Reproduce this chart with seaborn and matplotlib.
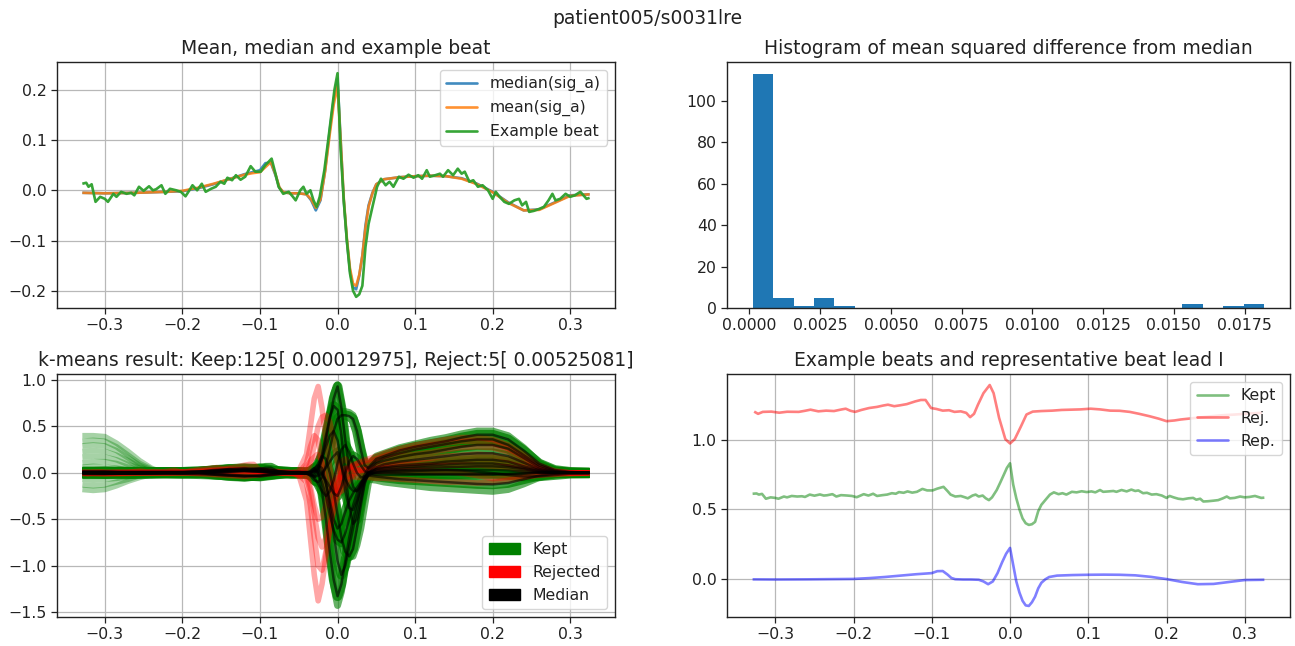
import matplotlib
matplotlib.use("Agg")
import numpy as np
import pandas as pd
import matplotlib.pyplot as plt
from matplotlib.lines import Line2D
from matplotlib.patches import Patch
import seaborn as sns

# ---------------------------------------------------------------- data
record_name = "patient005/s0031lre"

# averaged beats of lead I (seconds relative to R peak)
t_avg = [-0.329, -0.30, -0.26, -0.22, -0.20, -0.18, -0.16, -0.14, -0.12, -0.11,
         -0.10, -0.093, -0.086, -0.080, -0.075, -0.070, -0.06, -0.05, -0.04, -0.034,
         -0.028, -0.022, -0.016, -0.010, -0.005, 0.0, 0.004, 0.008, 0.012, 0.016,
         0.020, 0.024, 0.028, 0.032, 0.036, 0.040, 0.045, 0.050, 0.060, 0.080,
         0.10, 0.12, 0.14, 0.16, 0.18, 0.20, 0.22, 0.24, 0.26, 0.28,
         0.30, 0.325]
median_beat = [-0.005, -0.006, -0.005, -0.003, -0.002, 0.004, 0.012, 0.022, 0.032, 0.036,
               0.040, 0.054, 0.055, 0.030, 0.005, -0.004, -0.006, -0.006, -0.008, -0.020,
               -0.040, -0.020, 0.040, 0.120, 0.180, 0.222, 0.100, -0.020, -0.100, -0.160,
               -0.193, -0.197, -0.170, -0.130, -0.070, -0.030, -0.005, 0.012, 0.022, 0.026,
               0.028, 0.029, 0.028, 0.024, 0.013, -0.003, -0.024, -0.040, -0.038, -0.024,
               -0.010, -0.008]
mean_beat = [-0.005, -0.006, -0.005, -0.003, -0.001, 0.005, 0.013, 0.022, 0.031, 0.034,
             0.036, 0.046, 0.056, 0.032, 0.006, -0.004, -0.006, -0.006, -0.008, -0.018,
             -0.035, -0.018, 0.038, 0.112, 0.170, 0.208, 0.100, -0.015, -0.095, -0.155,
             -0.186, -0.190, -0.168, -0.130, -0.075, -0.033, -0.006, 0.012, 0.022, 0.026,
             0.028, 0.029, 0.028, 0.023, 0.012, -0.004, -0.025, -0.040, -0.039, -0.025,
             -0.011, -0.008]

# one kept beat of lead I
t_example = [-0.329, -0.324, -0.321, -0.317, -0.312, -0.306, -0.300, -0.296, -0.289, -0.285,
             -0.279, -0.272, -0.266, -0.262, -0.256, -0.250, -0.243, -0.238, -0.234, -0.227,
             -0.222, -0.216, -0.208, -0.202, -0.196, -0.191, -0.187, -0.181, -0.175, -0.170,
             -0.163, -0.157, -0.151, -0.146, -0.142, -0.136, -0.131, -0.125, -0.119, -0.112,
             -0.106, -0.099, -0.093, -0.085, -0.080, -0.076, -0.070, -0.063, -0.058, -0.054,
             -0.048, -0.044, -0.040, -0.035, -0.031, -0.027, -0.023,
             -0.017, -0.012, -0.008, -0.004, 0.0, 0.004, 0.008, 0.012, 0.016, 0.020,
             0.024, 0.028, 0.032, 0.036, 0.040, 0.045, 0.051,
             0.056, 0.062, 0.067, 0.072, 0.079, 0.085, 0.0915, 0.098, 0.104, 0.109,
             0.115, 0.119, 0.126, 0.132, 0.136, 0.1425, 0.149, 0.155, 0.160, 0.164,
             0.170, 0.175, 0.181, 0.187, 0.194, 0.200, 0.204, 0.209, 0.215, 0.221,
             0.228, 0.234, 0.238, 0.243, 0.247, 0.253, 0.260, 0.266, 0.272, 0.277,
             0.281, 0.287, 0.294, 0.300, 0.306, 0.313, 0.317, 0.321, 0.325]
example_beat = [0.013, 0.015, 0.007, 0.012, -0.023, -0.013, -0.017, -0.023, -0.007, -0.013,
                -0.003, -0.007, -0.005, -0.010, 0.007, -0.001, 0.008, 0.0, 0.002, 0.010,
                -0.007, 0.003, 0.0, -0.003, -0.012, 0.0, 0.010, 0.0, 0.013, -0.003,
                0.003, 0.007, 0.017, 0.013, 0.025, 0.020, 0.030, 0.021, 0.027, 0.048,
                0.037, 0.037, 0.050, 0.063, 0.033, 0.007, -0.007, -0.003, -0.012, -0.020,
                0.0, 0.007, -0.007, 0.0, -0.020, -0.033, -0.013,
                0.040, 0.100, 0.150, 0.200, 0.233, 0.080, -0.020, -0.100, -0.165, -0.200,
                -0.212, -0.207, -0.190, -0.113, -0.067, -0.033, 0.007,
                0.023, 0.010, 0.017, 0.007, 0.027, 0.023, 0.031, 0.025, 0.030, 0.023,
                0.040, 0.027, 0.030, 0.033, 0.027, 0.040, 0.030, 0.043, 0.033, 0.037,
                0.017, 0.020, 0.007, 0.010, 0.000, -0.017, -0.003, -0.013, -0.023, -0.027,
                -0.020, -0.017, -0.030, -0.023, -0.043, -0.041, -0.037, -0.033, -0.020, -0.007,
                -0.020, -0.017, -0.007, -0.013, -0.010, -0.003, -0.010, -0.017, -0.015]

# one rejected beat of lead I
t_rej = [-0.327, -0.322, -0.316, -0.305, -0.295, -0.285, -0.27, -0.262, -0.255, -0.245,
         -0.235, -0.225, -0.215, -0.21, -0.204, -0.198, -0.19, -0.18, -0.17, -0.162,
         -0.156, -0.148, -0.141, -0.132, -0.121, -0.114, -0.108, -0.101, -0.094, -0.086,
         -0.078, -0.071, -0.063, -0.056, -0.051, -0.046, -0.041, -0.034, -0.026, -0.021,
         -0.014, -0.006, 0.0, 0.006, 0.014, 0.021, 0.029, 0.04, 0.054, 0.066,
         0.078, 0.09, 0.103, 0.115, 0.128, 0.14, 0.153, 0.165, 0.178, 0.19,
         0.2, 0.21, 0.218, 0.238, 0.258, 0.272, 0.288, 0.305, 0.322]
rej_beat = [0.006, -0.01, 0.004, 0.006, -0.002, 0.005, 0.004, 0.012, 0.02, 0.008,
            0.013, 0.01, 0.022, 0.027, 0.012, 0.004, 0.018, 0.032, 0.04, 0.05,
            0.056, 0.045, 0.051, 0.06, 0.08, 0.09, 0.09, 0.032, 0.025, 0.013,
            0.016, 0.004, 0.008, -0.003, -0.034, -0.01, 0.056, 0.139, 0.198, 0.139,
            -0.039, -0.193, -0.224, -0.193, -0.1, -0.015, 0.006, 0.01, 0.013, 0.018,
            0.02, 0.022, 0.027, 0.022, 0.013, 0.012, 0.004, -0.01, -0.027, -0.045,
            -0.063, -0.058, -0.051, -0.039, -0.027, -0.02, -0.015, -0.008, -0.003]

# histogram of mean squared difference from the median beat
msd_lo, msd_hi, msd_nbins = 0.00011, 0.0182, 25
msd_counts = [113, 5, 1, 5, 1, 0, 0, 0, 0, 0,
              0, 0, 0, 0, 0, 0, 0, 0, 0, 0,
              0, 2, 0, 1, 2]

# beats of the remaining leads, on a shared time grid
t_lead = [-0.329, -0.30, -0.28, -0.26, -0.24, -0.22, -0.20, -0.18, -0.16, -0.14,
          -0.12, -0.10, -0.08, -0.06,
          -0.05, -0.04, -0.035, -0.03, -0.025, -0.02, -0.015, -0.01, -0.005, 0.0,
          0.005, 0.01, 0.015, 0.02, 0.025, 0.03, 0.035, 0.04,
          0.05, 0.06, 0.08, 0.10, 0.12, 0.14, 0.16, 0.18, 0.20, 0.22,
          0.24, 0.26, 0.28, 0.30, 0.325]
lead_medians = [
    [0.01, 0.01, 0.01, 0.01, 0.01, 0.01, 0.01, 0.015, 0.02, 0.03, 0.04, 0.03, 0.02, 0.01,
     0.01, 0.0, -0.02, -0.05, 0.0, 0.15, 0.35, 0.58, 0.80, 0.93, 0.70, 0.35, 0.05, -0.15, -0.2, -0.12, -0.02, 0.06,
     0.15, 0.18, 0.24, 0.28, 0.31, 0.34, 0.38, 0.41, 0.41, 0.36, 0.24, 0.10, 0.03, 0.01, 0.0],
    [0.0, 0.0, -0.005, 0.0, 0.0, 0.005, 0.005, 0.01, 0.03, 0.04, 0.03, 0.02, 0.01, 0.0,
     0.0, 0.0, -0.03, -0.08, -0.1, -0.05, 0.08, 0.25, 0.45, 0.58, 0.62, 0.62, 0.61, 0.58, 0.45, 0.25, 0.08, 0.05,
     0.12, 0.16, 0.21, 0.25, 0.28, 0.31, 0.34, 0.36, 0.36, 0.30, 0.19, 0.08, 0.02, 0.0, 0.0],
    [0.0, -0.01, -0.01, -0.01, -0.005, 0.0, 0.0, 0.0, -0.02, -0.03, -0.04, -0.03, -0.01, 0.0,
     0.0, 0.0, 0.02, 0.05, 0.0, -0.2, -0.5, -0.85, -1.15, -1.33, -1.2, -0.95, -0.7, -0.5, -0.32, -0.18, -0.06, 0.02,
     0.1, 0.13, 0.17, 0.2, 0.22, 0.25, 0.28, 0.30, 0.30, 0.26, 0.16, 0.06, 0.01, 0.0, 0.0],
    [0.0, 0.0, 0.0, 0.005, 0.005, 0.005, 0.0, 0.0, 0.01, 0.02, 0.03, 0.02, 0.0, 0.0,
     0.0, 0.0, 0.01, 0.05, 0.08, 0.05, -0.1, -0.35, -0.65, -0.95, -1.1, -1.0, -0.8, -0.6, -0.4, -0.22, -0.08, 0.0,
     0.06, 0.09, 0.12, 0.14, 0.16, 0.18, 0.2, 0.21, 0.21, 0.18, 0.11, 0.04, 0.01, 0.0, 0.0],
    [-0.01, -0.01, -0.01, -0.01, -0.01, -0.005, -0.005, 0.0, 0.0, 0.01, 0.02, 0.01, 0.0, -0.01,
     -0.01, -0.01, 0.0, 0.03, 0.1, 0.18, 0.15, 0.0, -0.2, -0.45, -0.7, -0.85, -0.9, -0.82, -0.6, -0.35, -0.12, 0.0,
     0.04, 0.06, 0.08, 0.09, 0.1, 0.12, 0.13, 0.14, 0.14, 0.12, 0.07, 0.03, 0.0, 0.0, 0.0],
    [0.01, 0.01, 0.005, 0.005, 0.0, 0.0, 0.0, 0.0, -0.01, -0.02, -0.03, -0.04, -0.02, 0.0,
     0.0, 0.0, 0.0, 0.02, 0.05, 0.0, -0.12, -0.3, -0.5, -0.6, -0.55, -0.42, -0.3, -0.22, -0.16, -0.1, -0.06, -0.03,
     -0.04, -0.05, -0.07, -0.08, -0.09, -0.1, -0.11, -0.12, -0.125, -0.11, -0.07, -0.03, -0.01, 0.0, 0.0],
    [0.0, 0.0, 0.0, 0.0, 0.0, 0.0, 0.005, 0.01, 0.02, 0.03, 0.02, 0.01, 0.0, 0.0,
     0.0, -0.01, -0.03, -0.02, 0.05, 0.15, 0.28, 0.4, 0.45, 0.35, 0.1, -0.2, -0.38, -0.4, -0.3, -0.15, -0.05, 0.0,
     0.02, 0.03, 0.04, 0.05, 0.055, 0.06, 0.065, 0.07, 0.07, 0.06, 0.04, 0.01, 0.0, 0.0, 0.0],
    [0.0, 0.005, 0.005, 0.0, 0.0, -0.005, -0.01, -0.015, -0.02, -0.03, -0.035, -0.03, -0.015, 0.0,
     0.0, 0.0, 0.01, 0.02, 0.02, -0.02, -0.08, -0.15, -0.22, -0.25, -0.15, 0.0, 0.12, 0.18, 0.15, 0.08, 0.02, -0.01,
     -0.02, -0.02, -0.02, -0.02, -0.02, -0.02, -0.02, -0.02, -0.02, -0.015, -0.01, 0.0, 0.0, 0.0, 0.0],
    [0.0, 0.0, 0.0, 0.0, 0.0, 0.0, 0.0, 0.0, 0.01, 0.02, 0.03, 0.05, 0.02, 0.0,
     0.0, 0.0, 0.0, -0.05, -0.12, -0.2, -0.25, -0.2, -0.08, 0.1, 0.25, 0.3, 0.22, 0.1, 0.0, -0.05, -0.04, -0.02,
     0.0, 0.01, 0.015, 0.02, 0.025, 0.03, 0.03, 0.03, 0.03, 0.025, 0.015, 0.005, 0.0, 0.0, 0.0],
    [0.015, 0.015, 0.01, 0.01, 0.01, 0.01, 0.01, 0.015, 0.02, 0.04, 0.05, 0.04, 0.02, 0.01,
     0.01, 0.01, 0.0, 0.0, 0.05, 0.2, 0.4, 0.6, 0.72, 0.68, 0.4, 0.0, -0.35, -0.55, -0.5, -0.3, -0.1, 0.0,
     0.0, 0.0, -0.005, -0.01, -0.01, -0.01, -0.01, -0.01, -0.01, -0.01, -0.005, 0.0, 0.0, 0.0, 0.0],
    [-0.015, -0.015, -0.01, -0.01, -0.01, -0.01, -0.01, -0.005, 0.0, 0.01, 0.02, 0.02, 0.0, -0.01,
     -0.01, -0.01, 0.0, 0.02, 0.0, -0.1, -0.25, -0.45, -0.62, -0.72, -0.75, -0.65, -0.5, -0.35, -0.22, -0.12, -0.05, 0.0,
     0.04, 0.05, 0.06, 0.07, 0.08, 0.09, 0.1, 0.1, 0.1, 0.08, 0.05, 0.02, 0.0, 0.0, 0.0],
]
kept_beats = [
    [0.02, 0.03, 0.03, 0.025, 0.02, 0.02, 0.02, 0.02, 0.04, 0.05, 0.06, 0.04, 0.02, 0.01,
     0.01, 0.0, -0.03, -0.06, 0.02, 0.2, 0.4, 0.62, 0.85, 0.95, 0.75, 0.4, 0.1, -0.12, -0.18, -0.1, 0.0, 0.09,
     0.18, 0.21, 0.27, 0.31, 0.35, 0.38, 0.42, 0.45, 0.45, 0.4, 0.27, 0.11, 0.03, 0.01, 0.0],
    [-0.02, -0.02, -0.015, -0.01, -0.01, -0.01, -0.01, -0.01, -0.02, -0.04, -0.05, -0.05, -0.03, -0.01,
     -0.01, -0.01, -0.01, 0.0, 0.03, -0.03, -0.16, -0.36, -0.56, -0.66, -0.6, -0.48, -0.36, -0.28, -0.22, -0.16, -0.1, -0.07,
     -0.08, -0.1, -0.12, -0.14, -0.16, -0.17, -0.18, -0.19, -0.2, -0.18, -0.12, -0.05, -0.02, -0.01, 0.0],
    [0.0, -0.01, -0.02, -0.02, -0.01, 0.0, 0.0, 0.0, -0.03, -0.05, -0.06, -0.04, -0.02, 0.0,
     0.0, 0.0, 0.03, 0.06, 0.0, -0.25, -0.55, -0.9, -1.22, -1.43, -1.28, -1.0, -0.75, -0.55, -0.36, -0.2, -0.07, 0.02,
     0.11, 0.15, 0.19, 0.22, 0.25, 0.28, 0.31, 0.33, 0.33, 0.28, 0.17, 0.06, 0.01, 0.0, 0.0],
    [0.0, 0.0, 0.0, 0.0, 0.0, 0.005, 0.01, 0.02, 0.04, 0.05, 0.04, 0.02, 0.01, 0.0,
     0.0, 0.0, -0.04, -0.1, -0.12, -0.06, 0.06, 0.24, 0.45, 0.6, 0.66, 0.66, 0.65, 0.62, 0.5, 0.3, 0.1, 0.0,
     0.08, 0.14, 0.19, 0.23, 0.26, 0.29, 0.32, 0.34, 0.34, 0.28, 0.17, 0.07, 0.02, 0.0, 0.0],
    [-0.01, -0.01, -0.01, -0.01, -0.01, -0.01, 0.0, 0.0, 0.01, 0.02, 0.03, 0.02, 0.0, -0.01,
     -0.01, -0.01, 0.0, 0.02, 0.08, 0.16, 0.14, 0.0, -0.18, -0.4, -0.62, -0.8, -0.9, -0.9, -0.78, -0.6, -0.35, -0.1,
     0.03, 0.05, 0.07, 0.08, 0.09, 0.11, 0.12, 0.13, 0.13, 0.11, 0.07, 0.03, 0.0, 0.0, 0.0],
]
rejected_beats = [
    [0.0, 0.0, 0.005, 0.005, 0.0, 0.0, 0.01, 0.02, 0.03, 0.04, 0.03, 0.02, 0.01, 0.0,
     0.02, 0.2, 0.5, 0.8, 0.93, 0.7, 0.35, 0.05, -0.15, -0.2, -0.1, 0.0, 0.05, 0.08, 0.1, 0.12, 0.14, 0.15,
     0.18, 0.21, 0.26, 0.3, 0.33, 0.36, 0.38, 0.38, 0.36, 0.3, 0.2, 0.08, 0.02, 0.0, 0.0],
    [0.0, -0.01, -0.01, -0.005, 0.0, 0.0, 0.0, -0.01, -0.02, -0.03, -0.04, -0.02, 0.0, 0.0,
     -0.02, -0.3, -0.7, -1.1, -1.38, -1.2, -0.9, -0.6, -0.35, -0.15, 0.0, 0.05, 0.05, 0.06, 0.07, 0.08, 0.09, 0.1,
     0.12, 0.14, 0.18, 0.2, 0.22, 0.25, 0.27, 0.28, 0.27, 0.22, 0.14, 0.05, 0.01, 0.0, 0.0],
    [0.01, 0.01, 0.005, 0.005, 0.0, 0.0, 0.0, 0.01, 0.02, 0.03, 0.02, 0.01, 0.0, 0.0,
     0.0, 0.0, 0.1, 0.3, 0.5, 0.6, 0.62, 0.55, 0.35, 0.1, -0.05, 0.0, 0.05, 0.08, 0.1, 0.11, 0.12, 0.13,
     0.15, 0.18, 0.23, 0.27, 0.3, 0.32, 0.34, 0.34, 0.32, 0.26, 0.17, 0.06, 0.01, 0.0, 0.0],
    [-0.01, -0.01, -0.005, 0.0, 0.0, 0.0, 0.0, 0.0, 0.01, 0.01, 0.02, 0.01, 0.0, -0.01,
     -0.02, -0.1, -0.35, -0.7, -1.0, -1.05, -0.85, -0.6, -0.4, -0.25, -0.15, -0.1, -0.05, 0.0, 0.02, 0.03, 0.04, 0.05,
     0.07, 0.09, 0.12, 0.14, 0.16, 0.18, 0.19, 0.2, 0.19, 0.15, 0.09, 0.03, 0.0, 0.0, 0.0],
    [0.0, 0.0, 0.0, 0.0, 0.0, 0.005, 0.005, 0.0, -0.01, -0.02, -0.03, -0.02, 0.0, 0.0,
     0.0, 0.0, -0.15, -0.35, -0.5, -0.48, -0.35, -0.2, -0.1, -0.05, -0.05, -0.04, -0.04, -0.04, -0.05, -0.05, -0.05, -0.05,
     -0.06, -0.06, -0.07, -0.08, -0.09, -0.1, -0.1, -0.11, -0.1, -0.08, -0.05, -0.02, -0.01, 0.0, 0.0],
    [0.0, 0.0, 0.0, 0.0, 0.005, 0.005, 0.01, 0.01, 0.02, 0.03, 0.04, 0.02, 0.01, 0.0,
     0.0, 0.1, 0.28, 0.4, 0.35, 0.1, -0.2, -0.35, -0.3, -0.15, 0.0, 0.05, 0.04, 0.03, 0.03, 0.03, 0.03, 0.03,
     0.04, 0.05, 0.06, 0.07, 0.075, 0.08, 0.08, 0.08, 0.07, 0.06, 0.03, 0.01, 0.0, 0.0, 0.0],
    [0.0, 0.0, 0.0, 0.005, 0.005, 0.0, 0.0, 0.0, 0.01, 0.02, 0.02, 0.01, 0.0, 0.0,
     -0.01, -0.05, -0.2, -0.45, -0.7, -0.8, -0.7, -0.45, -0.2, 0.0, 0.12, 0.15, 0.1, 0.05, 0.02, 0.02, 0.03, 0.04,
     0.05, 0.07, 0.09, 0.1, 0.11, 0.12, 0.13, 0.14, 0.13, 0.1, 0.06, 0.02, 0.0, 0.0, 0.0],
]

# baseline wander at the start of some kept beats
t_wander = [-0.329, -0.315, -0.30, -0.285, -0.27, -0.255, -0.24, -0.225]
wander_beats = [
    [0.40, 0.40, 0.39, 0.32, 0.23, 0.13, 0.05, 0.0],
    [0.34, 0.35, 0.34, 0.28, 0.19, 0.10, 0.04, 0.0],
    [0.29, 0.30, 0.29, 0.24, 0.16, 0.08, 0.03, 0.0],
    [0.23, 0.24, 0.23, 0.19, 0.13, 0.06, 0.02, 0.0],
    [0.17, 0.18, 0.17, 0.14, 0.09, 0.05, 0.02, 0.0],
    [0.11, 0.12, 0.12, 0.10, 0.06, 0.03, 0.01, 0.0],
    [0.06, 0.07, 0.06, 0.05, 0.03, 0.02, 0.0, 0.0],
    [-0.07, -0.08, -0.07, -0.06, -0.04, -0.02, -0.01, 0.0],
    [-0.13, -0.14, -0.13, -0.10, -0.07, -0.03, -0.01, 0.0],
    [-0.18, -0.19, -0.18, -0.14, -0.09, -0.05, -0.02, 0.0],
]

n_keep, n_reject = 125, 5
keep_msd, reject_msd = 0.00012975, 0.00525081
kept_offset, rej_offset = 0.6, 1.2

# ---------------------------------------------------------------- style
sns.set_style("ticks")
plt.rcParams.update({
    "font.family": ["DejaVu Sans"],
    "font.size": 11.3,
    "axes.titlesize": 13.5,
    "xtick.labelsize": 11.3,
    "ytick.labelsize": 11.3,
    "legend.fontsize": 11.3,
    "xtick.major.size": 4,
    "ytick.major.size": 4,
    "xtick.major.width": 0.9,
    "ytick.major.width": 0.9,
    "axes.linewidth": 1.0,
    "axes.edgecolor": "#222222",
    "text.color": "#222222",
    "xtick.color": "#222222",
    "ytick.color": "#222222",
    "grid.color": "#b8b8b8",
    "grid.linewidth": 0.9,
})


def trace(ax, x, y, **kw):
    sns.lineplot(x=np.asarray(x, dtype=float), y=np.asarray(y, dtype=float), ax=ax,
                 sort=False, estimator=None, legend=False,
                 solid_capstyle="butt", solid_joinstyle="round", **kw)


fig = plt.figure(figsize=(12.95, 6.46), dpi=100)
ax_avg = fig.add_axes([0.0440, 0.5232, 0.4309, 0.3808])
ax_hist = fig.add_axes([0.5614, 0.5232, 0.4347, 0.3808])
ax_km = fig.add_axes([0.0440, 0.0449, 0.4309, 0.3762])
ax_ex = fig.add_axes([0.5614, 0.0449, 0.4347, 0.3762])

fig.suptitle(record_name, fontsize=13.5, y=0.972, va="center")

# --- mean / median / example beat
c_med, c_mean, c_ex = "#1f77b4", "#ff7f0e", "#2ca02c"
trace(ax_avg, t_avg, median_beat, color=c_med, lw=1.9, alpha=0.85)
trace(ax_avg, t_avg, mean_beat, color=c_mean, lw=1.9, alpha=0.85)
trace(ax_avg, t_example, example_beat, color=c_ex, lw=1.9, alpha=0.95)
ax_avg.set_title("Mean, median and example beat")
ax_avg.grid(True)
ax_avg.legend(handles=[Line2D([], [], color=c_med, lw=1.9, alpha=0.85),
                       Line2D([], [], color=c_mean, lw=1.9, alpha=0.85),
                       Line2D([], [], color=c_ex, lw=1.9, alpha=0.95)],
              labels=["median(sig_a)", "mean(sig_a)", "Example beat"],
              loc="upper right")

# --- histogram of distances
msd_edges = np.linspace(msd_lo, msd_hi, msd_nbins + 1)
msd_table = pd.DataFrame({
    "msd": 0.5 * (msd_edges[:-1] + msd_edges[1:]),
    "count": np.asarray(msd_counts, dtype=float),
})
sns.histplot(data=msd_table, x="msd", weights="count", bins=msd_nbins,
             binrange=(msd_lo, msd_hi), ax=ax_hist,
             color="#1f77b4", alpha=1.0, edgecolor="none", linewidth=0)
ax_hist.set_xlabel("")
ax_hist.set_ylabel("")
ax_hist.set_title("Histogram of mean squared difference from median")
ax_hist.grid(False)

# --- k-means overview: kept (green), rejected (red), per-lead medians (black)
for beat in lead_medians:
    trace(ax_km, t_lead, beat, color="g", lw=7, alpha=0.75)
trace(ax_km, t_avg, median_beat, color="g", lw=7, alpha=0.75)
for beat in kept_beats:
    trace(ax_km, t_lead, beat, color="g", lw=5, alpha=0.6)
for beat in wander_beats:
    trace(ax_km, t_wander, beat, color="g", lw=4, alpha=0.35)
for beat in rejected_beats:
    trace(ax_km, t_lead, beat, color="r", lw=4, alpha=0.35)
trace(ax_km, t_rej, rej_beat, color="r", lw=4, alpha=0.35)
for beat in lead_medians:
    trace(ax_km, t_lead, beat, color="k", lw=1.8, alpha=0.6)
trace(ax_km, t_avg, median_beat, color="k", lw=1.8, alpha=0.6)
ax_km.set_ylim(-1.554, 1.065)
ax_km.set_title("k-means result: Keep:%d[ %.8f], Reject:%d[ %.8f]"
                % (n_keep, keep_msd, n_reject, reject_msd))
ax_km.grid(True)
ax_km.legend(handles=[Patch(color="g"), Patch(color="r"), Patch(color="k")],
             labels=["Kept", "Rejected", "Median"], loc="lower right")

# --- example beats and representative beat, stacked with offsets
trace(ax_ex, t_example, np.asarray(example_beat) + kept_offset, color="g", lw=1.9, alpha=0.5)
trace(ax_ex, t_rej, np.asarray(rej_beat) + rej_offset, color="r", lw=1.9, alpha=0.5)
trace(ax_ex, t_avg, median_beat, color="b", lw=1.9, alpha=0.5)
ax_ex.set_yticks([0.0, 0.5, 1.0])
ax_ex.set_title("Example beats and representative beat lead I")
ax_ex.grid(True)
ax_ex.legend(handles=[Line2D([], [], color="g", lw=1.9, alpha=0.5),
                      Line2D([], [], color="r", lw=1.9, alpha=0.5),
                      Line2D([], [], color="b", lw=1.9, alpha=0.5)],
             labels=["Kept", "Rej.", "Rep."], loc="upper right")

for ax in (ax_avg, ax_km, ax_ex):
    ax.set_xticks([-0.3, -0.2, -0.1, 0.0, 0.1, 0.2, 0.3])

fig.savefig("out.png", dpi=100)
